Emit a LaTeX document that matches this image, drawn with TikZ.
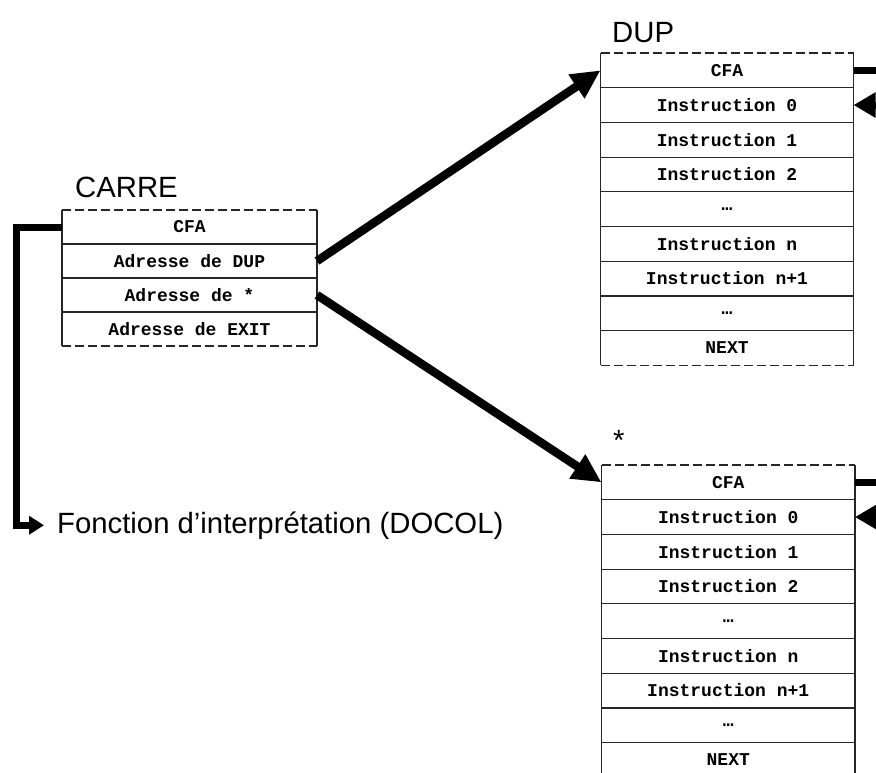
\documentclass[tikz,border=0pt]{standalone}
\usepackage{fontspec}
\setmainfont{Liberation Sans}
\newfontfamily\cellfont{Liberation Mono}
\usetikzlibrary{positioning,arrows.meta}

\tikzset{
  cell/.style={minimum width=253pt,minimum height=34.7pt,inner sep=0pt,outer sep=0pt,
    font=\cellfont\bfseries\fontsize{18}{20}\selectfont},
  title/.style={font=\fontsize{29.3}{33}\selectfont,anchor=base west,inner sep=0pt},
  frame/.style={line width=1.2pt,draw=black!85},
  dashframe/.style={frame,dash pattern=on 9pt off 4pt},
  wire/.style={line width=7pt},
  bigarrow/.style={line width=8.5pt,-{Triangle[length=29pt,width=27pt]}},
}

\begin{document}
\begin{tikzpicture}[x=1pt,y=-1pt]
  \useasboundingbox (0,0) rectangle (876,772);
  \node[cell,minimum width=255pt,minimum height=34pt] (carre1) at (189.5,227) {CFA};
  \foreach \t [count=\i from 2,remember=\i as \j (initially 1)] in {Adresse de DUP,Adresse de *,Adresse de EXIT}
    \node[cell,minimum width=255pt,minimum height=34pt,below=0pt of carre\j] (carre\i) {\t};
  \node[cell] (dup1) at (727,70.35) {CFA};
  \foreach \t [count=\i from 2,remember=\i as \j (initially 1)] in {Instruction 0,Instruction 1,Instruction 2,…,Instruction n,Instruction n+1,…,NEXT}
    \node[cell,below=0pt of dup\j] (dup\i) {\t};
  \node[cell,minimum width=253.5pt] (star1) at (728.25,482.35) {CFA};
  \foreach \t [count=\i from 2,remember=\i as \j (initially 1)] in {Instruction 0,Instruction 1,Instruction 2,…,Instruction n,Instruction n+1,…,NEXT}
    \node[cell,minimum width=253.5pt,below=0pt of star\j] (star\i) {\t};

  \node[title] (carrelabel) at (75,197) {CARRE};
  \node[title] (duplabel) at (612,42) {DUP};
  \node[title] (starlabel) at (613,450) {*};
  \node[title,inner xsep=13pt] (docol) at (44,533) {Fonction d’interprétation (DOCOL)};

  \draw[frame] (carre1.north west) -- (carre4.south west) (carre1.north east) -- (carre4.south east);
  \draw[dashframe] (carre1.north west) -- (carre1.north east) (carre4.south west) -- (carre4.south east);
  \foreach \i in {1,2,3}
    \draw[frame] (carre\i.south west) -- (carre\i.south east);
  \foreach \b in {dup,star} {
    \draw[frame] (\b1.north west) -- (\b9.south west) (\b1.north east) -- (\b9.south east);
    \draw[dashframe] (\b1.north west) -- (\b1.north east);
    \foreach \i in {1,...,8}
      \draw[frame] (\b\i.south west) -- (\b\i.south east);
  }
  \draw[dashframe] (dup9.south west) -- (dup9.south east);

  \draw[bigarrow] (carre2.east) -- (dup1.west);
  \draw[bigarrow] (carre3.east) -- (star1.west);
  \draw[wire,-{Triangle[length=15pt,width=18pt]}] (carre1.west) -- ++(-46,0) |- (docol.west);
  \draw[wire,-{Triangle[length=22pt,width=24pt]}] (dup1.east) -- ++(40,0) |- (dup2.east);
  \draw[wire,-{Triangle[length=22pt,width=24pt]}] (star1.east) -- ++(40,0) |- (star2.east);
\end{tikzpicture}
\end{document}
